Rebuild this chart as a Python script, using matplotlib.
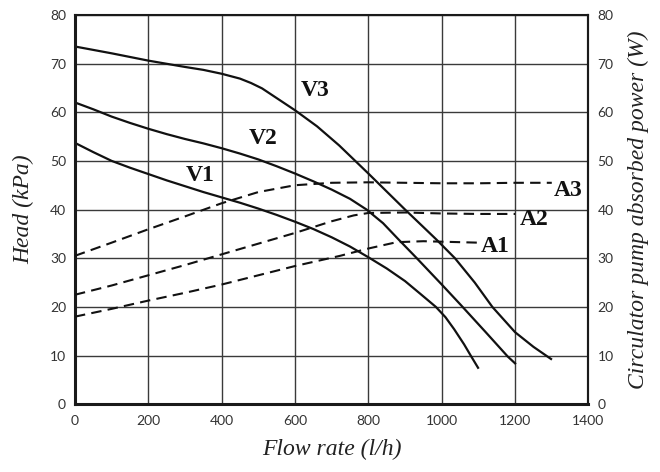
import matplotlib
matplotlib.use("Agg")
import matplotlib.pyplot as plt

# -----------------------------
# Data
# -----------------------------
v1_flow = [0, 50, 100, 150, 200, 250, 300, 350, 400, 450, 500, 550, 600, 650, 700, 750, 800,
           850, 900, 943, 984, 1010, 1034, 1061, 1079, 1099]
v1_head = [53.7, 51.8, 50.0, 48.6, 47.3, 46.0, 44.8, 43.6, 42.5, 41.4, 40.2, 38.9, 37.5, 36.0,
           34.3, 32.4, 30.2, 27.9, 25.3, 22.6, 20.0, 17.9, 15.4, 12.3, 10.0, 7.5]

v2_flow = [0, 50, 100, 150, 200, 250, 300, 350, 400, 450, 500, 550, 600, 650, 700, 750, 795,
           840, 883, 932, 1000, 1052, 1120, 1180, 1200]
v2_head = [62.0, 60.6, 59.1, 57.8, 56.6, 55.5, 54.5, 53.6, 52.6, 51.5, 50.3, 48.9, 47.4, 45.8,
           44.1, 42.2, 40.0, 37.2, 33.8, 30.0, 24.6, 20.4, 14.8, 9.8, 8.4]

v3_flow = [0, 100, 200, 300, 350, 400, 450, 480, 510, 540, 570, 600, 660, 720, 760, 800, 850,
           900, 950, 986, 1036, 1090, 1138, 1200, 1250, 1298]
v3_head = [73.5, 72.1, 70.6, 69.3, 68.7, 67.9, 66.9, 66.0, 64.9, 63.4, 61.9, 60.4, 57.1, 53.2,
           50.3, 47.4, 43.7, 40.0, 36.4, 33.8, 30.0, 25.0, 20.0, 14.8, 11.8, 9.3]

a1_flow = [0, 100, 200, 300, 400, 500, 600, 723, 800, 877, 950, 1000, 1100]
a1_power = [18.0, 19.6, 21.3, 22.9, 24.6, 26.5, 28.4, 30.5, 32.0, 33.3, 33.5, 33.4, 33.2]

a2_flow = [0, 100, 200, 300, 400, 500, 600, 700, 760, 800, 900, 1000, 1100, 1200]
a2_power = [22.5, 24.4, 26.5, 28.6, 30.8, 33.0, 35.2, 37.6, 38.8, 39.3, 39.4, 39.2, 39.1, 39.1]

a3_flow = [0, 100, 198, 300, 400, 500, 600, 700, 800, 900, 1000, 1100, 1200, 1300]
a3_power = [30.5, 33.2, 35.9, 38.6, 41.3, 43.6, 45.0, 45.5, 45.6, 45.5, 45.4, 45.4, 45.5, 45.5]

x_ticks = [0, 200, 400, 600, 800, 1000, 1200, 1400]
y_ticks = [0, 10, 20, 30, 40, 50, 60, 70, 80]

# -----------------------------
# Figure
# -----------------------------
fig = plt.figure(figsize=(6.6, 4.72), dpi=100)
ax = fig.add_axes([0.1136, 0.1435, 0.778, 0.825])
ax2 = ax.twinx()

serif = "Liberation Serif"
tick_font = "Lato"

ax.set_xlim(0, 1400)
ax.set_ylim(0, 80)
ax2.set_ylim(0, 80)
ax.set_xticks(x_ticks)
ax.set_yticks(y_ticks)
ax2.set_yticks(y_ticks)
ax.grid(True, color="#3a3a3a", linewidth=1.0)
ax.set_axisbelow(True)

for a in (ax, ax2):
    a.tick_params(length=0, labelsize=10, colors="#333333", pad=6.5)
    for lab in a.get_xticklabels() + a.get_yticklabels():
        lab.set_fontfamily(tick_font)
ax.tick_params(axis="x", pad=7.5)

for name, sp in ax.spines.items():
    sp.set_color("#1a1a1a")
    sp.set_linewidth(2.2 if name in ("left", "bottom") else 1.5)
ax2.spines["right"].set_linewidth(1.5)
ax2.spines["right"].set_color("#1a1a1a")
ax2.spines["left"].set_visible(False)
ax2.spines["top"].set_visible(False)
ax2.spines["bottom"].set_visible(False)

# Head curves (solid)
for fl, hd in ((v1_flow, v1_head), (v2_flow, v2_head), (v3_flow, v3_head)):
    ax.plot(fl, hd, color="#111111", linewidth=1.6, solid_joinstyle="round")

# Power curves (dashed)
for fl, pw in ((a1_flow, a1_power), (a2_flow, a2_power), (a3_flow, a3_power)):
    ax2.plot(fl, pw, color="#111111", linewidth=1.5, linestyle=(0, (5, 3)))

# Curve labels
lab_kw = dict(fontfamily=serif, fontweight="bold", fontsize=17, color="#111111",
              ha="center", va="center")
ax.text(341, 46.9, "V1", **lab_kw)
ax.text(513, 54.5, "V2", **lab_kw)
ax.text(656, 64.4, "V3", **lab_kw)
ax2.text(1145, 32.4, "A1", **lab_kw)
ax2.text(1252, 38.0, "A2", **lab_kw)
ax2.text(1345, 44.0, "A3", **lab_kw)

ax.set_xlabel("Flow rate (l/h)", fontfamily=serif, fontstyle="italic",
              fontsize=17, color="#222222", labelpad=9)
ax.set_ylabel("Head (kPa)", fontfamily=serif, fontstyle="italic",
              fontsize=17, color="#222222", labelpad=11)
ax2.set_ylabel("Circulator pump absorbed power (W)", fontfamily=serif,
               fontstyle="italic", fontsize=17, color="#222222", labelpad=10)

fig.savefig("out.png", dpi=100)
